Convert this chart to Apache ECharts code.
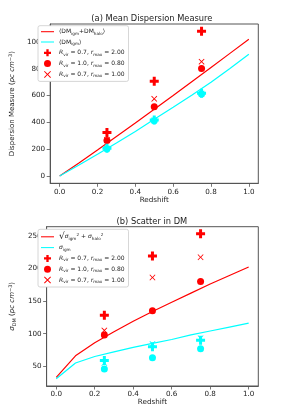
<!DOCTYPE html>
<html><head><meta charset="utf-8">
<script src="https://cdn.jsdelivr.net/npm/echarts@6/dist/echarts.min.js"></script>
<style>html,body{margin:0;padding:0;background:#fff}#c{width:287px;height:409px}</style>
</head><body><div id="c"></div>
<script>
// ---- data ----
const zLine = [0, 0.1, 0.2, 0.3, 0.4, 0.5, 0.6, 0.7, 0.8, 0.9, 1.0];
const meanTotal = [0, 96, 194, 295, 396, 498, 600, 705, 810, 915, 1020];
const meanIgm   = [0, 80, 162, 246, 333, 423, 513, 605, 700, 802, 908];
const sigTotal  = [33, 66, 86, 103, 119, 134, 148, 162, 176, 189, 202];
const sigIgm    = [31, 55, 65, 72, 79, 85, 91, 98, 104, 110, 116];

const zPts = [0.25, 0.5, 0.75];
// panel (a): mean DM
const aPlusRed   = [325, 707, 1080];
const aCircRed   = [266, 516, 802];
const aXRed      = [270, 576, 853];
const aPlusCyan  = [207, 418, 618];
const aCircCyan  = [203, 412, 612];
const aXCyan     = [205, 416, 616];
// panel (b): scatter
const bPlusRed   = [128, 219, 253];
const bCircRed   = [98, 135, 180];
const bXRed      = [105, 186, 217];
const bPlusCyan  = [59, 80, 90];
const bCircCyan  = [46, 63, 77];
const bXCyan     = [55, 84, 93];

const xTicks = [0, 0.2, 0.4, 0.6, 0.8, 1.0];
const aYTicks = [0, 200, 400, 600, 800, 1000];
const bYTicks = [50, 100, 150, 200, 250];

// ---- helpers ----
const pair = (xs, ys) => xs.map((x, i) => [x, ys[i]]);
const RED = '#ff0000', CYAN = '#00ffff';
const PLUS = 'path://M2,0H4V2H6V4H4V6H2V4H0V2H2Z';
const XMARK = 'path://M0,1L1,0L5,4L9,0L10,1L6,5L10,9L9,10L5,6L1,10L0,9L4,5Z';
const LINEICON = 'path://M0,0H20V1.6H0Z';
const FONT = 'DejaVu Sans';
const txt = '#222';

function lineS(name, xi, yi, ys, color) {
  return { name, type: 'line', xAxisIndex: xi, yAxisIndex: yi, data: pair(zLine, ys),
    symbol: 'none', lineStyle: { color, width: 1.2 }, itemStyle: { color }, z: 2, silent: true, animation: false };
}
function scat(name, xi, yi, ys, color, sym, size) {
  return { name, type: 'scatter', xAxisIndex: xi, yAxisIndex: yi, data: pair(zPts, ys),
    symbol: sym, symbolSize: size, itemStyle: { color, opacity: 1 }, z: 3, silent: true, animation: false };
}

const richBase = {
  n: { fontSize: 6, fontFamily: FONT, color: txt },
  i: { fontSize: 6, fontFamily: FONT, color: txt, fontStyle: 'italic' },
  s: { fontSize: 4.2, fontFamily: FONT, color: txt, padding: [4, 0, 0, 0] },
  p: { fontSize: 4.2, fontFamily: FONT, color: txt, padding: [0, 0, 4, 0] },
  sq: { fontSize: 9, fontFamily: FONT, color: txt }
};
const labels = {
  aTot: '{n|⟨DM}{s|igm}{n|+DM}{s|halo}{n|⟩}',
  aIgm: '{n|⟨DM}{s|igm}{n|⟩}',
  bTot: '{sq|√}{i|σ}{s|igm}{p|2}{n| + }{i|σ}{s|halo}{p|2}',
  bIgm: '{i|σ}{s|igm}',
  P: '{i|R}{s|vir}{n| = 0.7, }{i|r}{s|max}{n| = 2.00}',
  C: '{i|R}{s|vir}{n| = 1.0, }{i|r}{s|max}{n| = 0.80}',
  X: '{i|R}{s|vir}{n| = 0.7, }{i|r}{s|max}{n| = 1.00}'
};
labels.a_P = labels.P; labels.a_C = labels.C; labels.a_X = labels.X;
labels.b_P = labels.P; labels.b_C = labels.C; labels.b_X = labels.X;

function legend(top, items) {
  return {
    left: 38, top, orient: 'vertical', itemWidth: 13, itemHeight: 7, itemGap: 3.3,
    padding: [3, 4, 3, 3], backgroundColor: '#fff', borderColor: '#cccccc', borderWidth: 0.8, borderRadius: 2,
    data: items, formatter: n => labels[n], selectedMode: false,
    textStyle: { fontFamily: FONT, fontSize: 6, color: txt, rich: richBase }
  };
}

const axisCommon = {
  axisLine: { show: true, onZero: false, lineStyle: { color: '#555', width: 1 } },
  axisTick: { show: true, length: 3.5, lineStyle: { color: '#555', width: 0.8 } },
  splitLine: { show: false },
  axisLabel: { fontFamily: FONT, fontSize: 7.2, color: txt, margin: 5 }
};

function xAx(gi) {
  return Object.assign({}, axisCommon, {
    type: 'value', gridIndex: gi, min: -0.05, max: 1.05,
    name: 'Redshift', nameLocation: 'middle', nameGap: 12,
    nameTextStyle: { fontFamily: FONT, fontSize: 7.2, color: txt },
    axisTick: Object.assign({}, axisCommon.axisTick, { customValues: xTicks }),
    axisLabel: Object.assign({}, axisCommon.axisLabel, { customValues: xTicks, formatter: v => v.toFixed(1) })
  });
}
function yAx(gi, min, max, ticks, name, rich) {
  return Object.assign({}, axisCommon, {
    type: 'value', gridIndex: gi, min, max,
    name, nameLocation: 'middle', nameGap: 26,
    nameTextStyle: { fontFamily: FONT, fontSize: 7, color: txt, rich },
    axisTick: Object.assign({}, axisCommon.axisTick, { customValues: ticks }),
    axisLabel: Object.assign({}, axisCommon.axisLabel, { customValues: ticks, formatter: v => String(v) })
  });
}

const yRich = {
  n: { fontSize: 7, fontFamily: FONT, color: txt },
  i: { fontSize: 7, fontFamily: FONT, color: txt, fontStyle: 'italic' },
  s: { fontSize: 5, fontFamily: FONT, color: txt, padding: [4, 0, 0, 0] },
  p: { fontSize: 5, fontFamily: FONT, color: txt, padding: [0, 0, 4, 0] }
};

const option = {
  animation: false,
  backgroundColor: '#fff',
  title: [
    { text: '(a) Mean Dispersion Measure', left: 146.9, top: 10, textAlign: 'center',
      textStyle: { fontFamily: FONT, fontSize: 8.3, fontWeight: 'normal', color: txt } },
    { text: '(b) Scatter in DM', left: 146.9, top: 213, textAlign: 'center',
      textStyle: { fontFamily: FONT, fontSize: 8.3, fontWeight: 'normal', color: txt } }
  ],
  grid: [
    { left: 35.5, top: 24, width: 222.8, height: 159.3, show: true, borderColor: '#555', borderWidth: 1, backgroundColor: 'transparent' },
    { left: 35.5, top: 226.7, width: 222.8, height: 159.3, show: true, borderColor: '#555', borderWidth: 1, backgroundColor: 'transparent' }
  ],
  xAxis: [xAx(0), xAx(1)],
  yAxis: [
    yAx(0, -54, 1134, aYTicks, '{n|Dispersion Measure (}{i|pc cm}{p|−3}{n|)}', yRich),
    yAx(1, 19.8, 263.8, bYTicks, '{i|σ}{s|DM}{n| (}{i|pc cm}{p|−3}{n|)}', yRich)
  ],
  legend: [
    legend(25.7, [
      { name: 'aTot', icon: LINEICON }, { name: 'aIgm', icon: LINEICON },
      { name: 'a_P', icon: PLUS }, { name: 'a_C', icon: 'circle' }, { name: 'a_X', icon: XMARK }
    ]),
    legend(229.3, [
      { name: 'bTot', icon: LINEICON }, { name: 'bIgm', icon: LINEICON },
      { name: 'b_P', icon: PLUS }, { name: 'b_C', icon: 'circle' }, { name: 'b_X', icon: XMARK }
    ])
  ],
  series: [
    lineS('aTot', 0, 0, meanTotal, RED),
    lineS('aIgm', 0, 0, meanIgm, CYAN),
    scat('a_P', 0, 0, aPlusRed, RED, PLUS, 9),
    scat('a_C', 0, 0, aCircRed, RED, 'circle', 7),
    scat('a_X', 0, 0, aXRed, RED, XMARK, 6),
    scat('a_Pc', 0, 0, aPlusCyan, CYAN, PLUS, 9),
    scat('a_Cc', 0, 0, aCircCyan, CYAN, 'circle', 7),
    scat('a_Xc', 0, 0, aXCyan, CYAN, XMARK, 6),
    lineS('bTot', 1, 1, sigTotal, RED),
    lineS('bIgm', 1, 1, sigIgm, CYAN),
    scat('b_P', 1, 1, bPlusRed, RED, PLUS, 9),
    scat('b_C', 1, 1, bCircRed, RED, 'circle', 7),
    scat('b_X', 1, 1, bXRed, RED, XMARK, 6),
    scat('b_Pc', 1, 1, bPlusCyan, CYAN, PLUS, 9),
    scat('b_Cc', 1, 1, bCircCyan, CYAN, 'circle', 7),
    scat('b_Xc', 1, 1, bXCyan, CYAN, XMARK, 6)
  ]
};

const chart = echarts.init(document.getElementById('c'), null, { renderer: 'canvas' });
chart.setOption(option);
</script>
</body></html>
